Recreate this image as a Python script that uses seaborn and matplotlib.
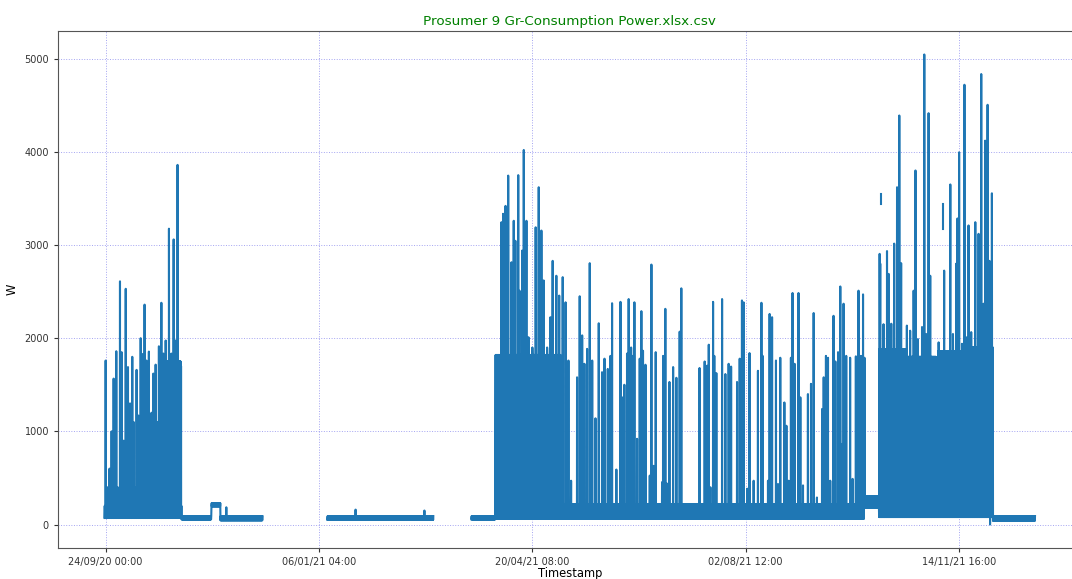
import numpy as np
import pandas as pd
import matplotlib
matplotlib.use("Agg")
import matplotlib.pyplot as plt
import matplotlib.dates as mdates
import seaborn as sns

# ---------------- data ----------------
START = pd.Timestamp("2020-09-24 00:00")          # day 0
TITLE = "Prosumer 9 Gr-Consumption Power.xlsx.csv"
X_LABEL = "Timestamp"
Y_LABEL = "W"
tick_times = ["2020-09-24 00:00", "2021-01-06 04:00", "2021-04-20 08:00",
              "2021-08-02 12:00", "2021-11-14 16:00"]

# baseline bands: continuous-record id, start day, end day, low W, high W
band_seg   = [0, 0, 0, 0, 1, 2, 2, 2, 2, 2]
band_start = [-0.5, 37.1, 51.7, 56.1, 108.3, 178.6, 190.3, 370.3, 377.6, 433.2]
band_end   = [37.1, 51.7, 56.1, 76.6, 160.0, 190.3, 370.3, 377.6, 433.2, 453.7]
band_low   = [70, 55, 195, 45, 50, 55, 60, 180, 80, 40]
band_high  = [200, 90, 230, 90, 90, 90, 220, 300, 230, 90]

# periods of continuous high load: start day, end day, typical high W
dense_start = [26.0, 190.3, 377.6, 391.5, 406.2, 418.5]
dense_end   = [36.6, 222.0, 391.0, 405.2, 418.0, 433.2]
dense_level = [1750, 1820, 1880, 1800, 1860, 1900]

# individual load peaks (day, W)
autumn20_day = [0.0, 1.0, 1.9, 2.9, 3.9, 5.2, 5.9, 7.0, 7.8, 8.8, 9.8, 10.9, 11.9,
                13.0, 13.7, 14.1, 15.1, 16.0, 16.6, 17.1, 17.9, 18.5, 19.0, 19.9,
                20.5, 21.1, 22.0, 22.4, 23.3, 23.9, 24.4, 25.4, 26.0, 27.2, 28.2,
                29.3, 30.9, 32.1, 33.2, 34.0, 35.1, 36.1, 36.8, 58.9, 122.0, 155.6]
autumn20_w = [1760, 400, 600, 1000, 1566, 1860, 400, 2610, 1850, 900, 2530, 1690, 1300,
              1800, 1100, 400, 1660, 1170, 700, 2000, 1830, 1300, 2360, 1760,
              900, 1856, 400, 1200, 1620, 700, 1716, 1100, 1913, 2380, 1835,
              1975, 3175, 1835, 3060, 1975, 3860, 1690, 1700, 185, 160, 150]

spring21_day = [193.2, 194.0, 195.2, 196.5, 198.1, 199.2, 200.0, 201.4, 202.0, 203.3,
                204.1, 205.4, 206.4, 208.3, 209.9, 211.4, 212.7, 213.8, 215.5, 217.1,
                218.2, 220.0, 221.4, 223.1, 224.5, 225.9, 227.2, 230.1, 231.4, 232.6,
                233.7, 235.0, 236.3, 237.5, 239.1, 240.7, 242.3, 243.5, 245.1, 246.4,
                247.2, 249.3, 251.3, 252.1, 253.2, 254.5, 255.3, 256.5, 257.3, 258.1,
                259.4, 260.7, 261.5, 262.3, 263.5, 265.6, 266.4, 267.5, 268.5, 271.6,
                272.1, 273.2, 274.0, 275.2, 277.0, 278.6, 280.2, 281.0]
spring21_w = [3245, 3335, 3420, 3745, 2815, 3260, 3045, 3750, 2510, 2940,
              4020, 3260, 2010, 1900, 3190, 3620, 3155, 2620, 1900, 2225,
              2830, 2670, 2457, 2655, 2385, 1760, 470, 1580, 2450, 2030,
              1725, 1885, 2805, 1760, 1140, 2160, 1635, 1780, 1670, 1810,
              2375, 590, 2390, 1365, 1500, 1835, 2420, 1900, 1810, 2385,
              920, 1780, 2290, 1865, 1715, 525, 2790, 630, 1850, 455,
              1810, 2315, 440, 1530, 1690, 1575, 2070, 2535]

summer21_day = [289.9, 292.4, 293.6, 294.4, 295.2, 296.5, 297.1, 298.1, 300.9, 302.5,
                304.1, 305.3, 308.2, 309.5, 310.6, 311.4, 313.1, 314.3, 316.3, 318.4,
                320.1, 320.7, 323.3, 324.1, 325.3, 327.2, 328.2, 329.3, 331.3, 332.3,
                333.4, 334.5, 335.3, 336.3, 338.2, 339.1, 340.4, 342.8, 344.3, 345.6,
                347.2, 349.7, 350.5, 351.6, 352.6, 353.7, 355.3, 356.2, 357.5, 358.6,
                359.4, 360.2, 361.5, 363.4, 364.6, 366.2, 367.5, 368.7, 369.7, 370.4]
summer21_w = [1680, 1750, 1705, 1930, 400, 2390, 1810, 1625, 2420, 1615,
              1725, 1695, 1530, 1780, 2405, 2385, 385, 1840, 470, 1650,
              2380, 1810, 470, 2260, 2225, 1760, 435, 1790, 1310, 1060,
              470, 1790, 2485, 1725, 2485, 1365, 420, 1400, 1510, 2270,
              290, 1240, 1580, 1810, 1790, 470, 2240, 1750, 1850, 2555,
              865, 2370, 1810, 1790, 490, 1805, 2510, 1810, 2470, 1790]

winter21_day = [377.8, 378.1, 379.7, 381.4, 382.2, 383.5, 384.9, 386.3, 387.4, 388.3,
                391.1, 392.7, 394.4, 395.3, 396.5, 398.5, 399.6, 400.5, 401.7, 402.5,
                406.6, 409.3, 412.3, 413.6, 415.2, 415.8, 416.6, 418.0, 419.2, 420.4,
                421.2, 422.5, 424.5, 426.1, 427.4, 428.5, 429.3, 430.5, 431.4, 431.7,
                432.3, 432.6]
winter21_w = [2905, 2800, 2150, 2935, 2690, 2155, 3015, 3620, 4390, 2805,
              2135, 2080, 2510, 3800, 1990, 2120, 5045, 2045, 4415, 2670,
              1955, 2725, 3650, 2045, 2800, 3285, 3995, 1940, 4720, 2010,
              3210, 2065, 3245, 3120, 4835, 2370, 4120, 4505, 2830, 0,
              1865, 3555]

# short isolated readings: day, low W, high W
lone_day  = [378.4, 408.7]
lone_low  = [3435, 3170]
lone_high = [3550, 3435]

# ---------------- build the long table ----------------
STEP = 0.2  # days between baseline samples
rows = []
for seg, s, e, lo, hi in zip(band_seg, band_start, band_end, band_low, band_high):
    for t in np.arange(s, e, STEP):
        top = hi
        for ds, de, lv in zip(dense_start, dense_end, dense_level):
            if ds <= t < de:
                top = lv
        rows.append((seg, t, lo))
        rows.append((seg, t + STEP / 2, top))

def seg_of(day):
    for seg, s, e in zip(band_seg, band_start, band_end):
        if s <= day <= e:
            return seg
    return 0

for days, ws in [(autumn20_day, autumn20_w), (spring21_day, spring21_w),
                 (summer21_day, summer21_w), (winter21_day, winter21_w)]:
    for d, w in zip(days, ws):
        rows.append((seg_of(d), d + 0.05, w))

for k, (d, lo, hi) in enumerate(zip(lone_day, lone_low, lone_high)):
    rows.append((10 + k, d, lo))
    rows.append((10 + k, d, hi))

df = pd.DataFrame(rows, columns=["seg", "day", "W"])
df["Timestamp"] = START + pd.to_timedelta(df["day"], unit="D")
df = df.sort_values(["seg", "day"]).reset_index(drop=True)

# ---------------- plot ----------------
plt.rcParams["font.family"] = ["DejaVu Sans"]
fig = plt.figure(figsize=(10.72, 5.79), dpi=100)
ax = fig.add_axes([0.0541, 0.0535, 0.9548, 0.893])

sns.lineplot(data=df, x="Timestamp", y="W", units="seg", estimator=None,
             color="#1f77b4", linewidth=1.5, ax=ax, sort=True)

ticks = pd.to_datetime(tick_times)
ax.set_xticks(ticks)
ax.xaxis.set_major_formatter(mdates.DateFormatter("%d/%m/%y %H:%M"))
ax.set_yticks([0, 1000, 2000, 3000, 4000, 5000])
ax.tick_params(labelsize=7, colors="#333333", length=3)
ax.grid(True, color="#5a5ae6", alpha=0.55, linestyle=":", linewidth=0.7)
for sp in ax.spines.values():
    sp.set_color("#555555")
ax.spines["right"].set_visible(False)
ax.set_title(TITLE, color="green", fontsize=9.7, pad=4)
ax.set_xlabel(X_LABEL, fontsize=8.3, labelpad=0)
ax.set_ylabel(Y_LABEL, fontsize=8.3)

fig.savefig("out.png", dpi=100)
